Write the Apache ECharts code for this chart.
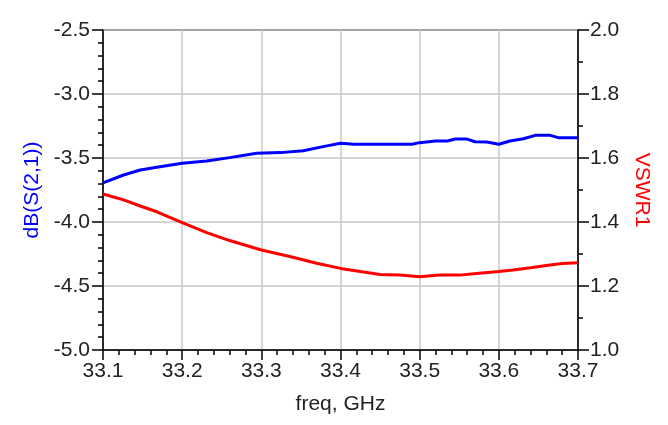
<!DOCTYPE html>
<html>
<head>
<meta charset="utf-8">
<script src="https://cdn.jsdelivr.net/npm/echarts@6/dist/echarts.min.js"></script>
<style>html,body{margin:0;padding:0;background:#fff}#c{width:668px;height:425px}</style>
</head>
<body>
<div id="c"></div>
<script>
const freqS21 = [33.1,33.126,33.147,33.168,33.2,33.231,33.26,33.294,33.324,33.353,33.378,33.4,33.417,33.45,33.49,33.5,33.52,33.535,33.545,33.56,33.57,33.585,33.6,33.614,33.631,33.646,33.665,33.675,33.7];
const dbS21 = [-3.695,-3.633,-3.594,-3.573,-3.541,-3.523,-3.497,-3.463,-3.458,-3.443,-3.411,-3.385,-3.393,-3.393,-3.393,-3.38,-3.367,-3.367,-3.352,-3.352,-3.373,-3.375,-3.393,-3.367,-3.35,-3.323,-3.323,-3.341,-3.341];
const freqVSWR = [33.1,33.126,33.147,33.168,33.2,33.231,33.26,33.3,33.336,33.37,33.4,33.425,33.45,33.475,33.5,33.525,33.55,33.575,33.6,33.618,33.64,33.66,33.68,33.7];
const vswr1 = [1.4875,1.469,1.45,1.432,1.398,1.367,1.342,1.3125,1.292,1.271,1.255,1.245,1.236,1.234,1.229,1.234,1.234,1.24,1.245,1.25,1.257,1.264,1.27,1.273];

const chart = echarts.init(document.getElementById('c'));
const font = '"Liberation Sans Narrow", "Arial Narrow", sans-serif';
const txt = '#222';
const fs = 21;
chart.setOption({
  animation: false,
  grid: {left: 103, right: 90, top: 30, bottom: 75, show: true, borderColor: '#000', borderWidth: 1.5},
  xAxis: {
    type: 'value', min: 33.1, max: 33.7, interval: 0.1,
    name: 'freq, GHz', nameLocation: 'middle', nameGap: 44,
    nameTextStyle: {color: txt, fontSize: fs, fontFamily: font},
    axisLine: {show: true, lineStyle: {color: '#000', width: 1.5}},
    axisTick: {show: true, length: 10, lineStyle: {color: '#000', width: 1.5}},
    minorTick: {show: true, splitNumber: 5, length: 5, lineStyle: {color: '#000', width: 1.5}},
    axisLabel: {color: txt, fontSize: fs, fontFamily: font, margin: 11, formatter: v => v.toFixed(1)},
    splitLine: {show: true, lineStyle: {color: '#c8c8c8', width: 1.5}}
  },
  yAxis: [{
    type: 'value', position: 'left', min: -5, max: -2.5, interval: 0.5,
    name: 'dB(S(2,1))', nameLocation: 'middle', nameGap: 58, nameRotate: 90,
    nameTextStyle: {color: '#0000ff', fontSize: fs, fontFamily: font},
    axisLine: {show: true, lineStyle: {color: '#000', width: 1.5}},
    axisTick: {show: true, length: 11, lineStyle: {color: '#000', width: 1.5}},
    minorTick: {show: true, splitNumber: 5, length: 5, lineStyle: {color: '#000', width: 1.5}},
    axisLabel: {color: txt, fontSize: fs, fontFamily: font, margin: 13, formatter: v => v.toFixed(1)},
    splitLine: {show: true, lineStyle: {color: '#c8c8c8', width: 1.5}}
  }, {
    type: 'value', position: 'right', min: 1.0, max: 2.0, interval: 0.2,
    name: 'VSWR1', nameLocation: 'middle', nameGap: 53, nameRotate: -90,
    nameTextStyle: {color: '#ff0000', fontSize: fs, fontFamily: font},
    axisLine: {show: true, lineStyle: {color: '#000', width: 1.5}},
    axisTick: {show: true, length: 11, lineStyle: {color: '#000', width: 1.5}},
    minorTick: {show: true, splitNumber: 2, length: 5, lineStyle: {color: '#000', width: 1.5}},
    axisLabel: {color: txt, fontSize: fs, fontFamily: font, margin: 12, formatter: v => v.toFixed(1)},
    splitLine: {show: false}
  }],
  series: [{
    type: 'line', yAxisIndex: 0, showSymbol: false,
    data: freqS21.map((f, i) => [f, dbS21[i]]),
    lineStyle: {color: '#0000ff', width: 3}
  }, {
    type: 'line', yAxisIndex: 1, showSymbol: false,
    data: freqVSWR.map((f, i) => [f, vswr1[i]]),
    lineStyle: {color: '#ff0000', width: 3}
  }]
});
</script>
</body>
</html>
